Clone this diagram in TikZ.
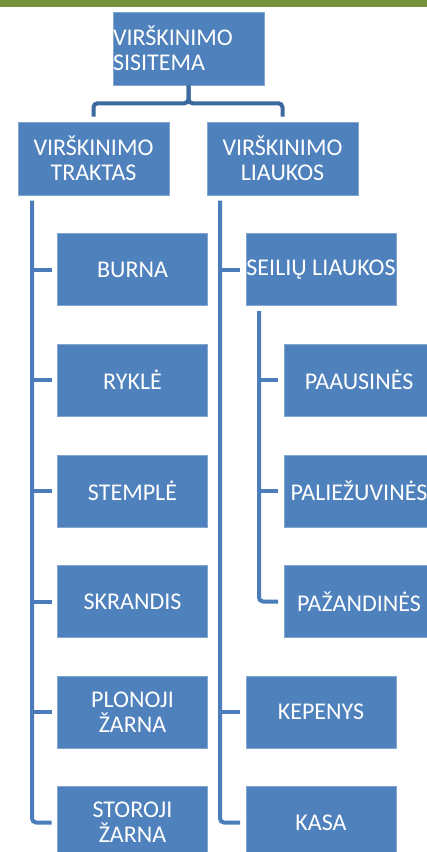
\documentclass[tikz,border=0pt]{standalone}
\usepackage{fontspec}
\setmainfont{Carlito}
\definecolor{boxblue}{HTML}{4F81BD}
\definecolor{lineblue}{HTML}{4A7DBA}
\definecolor{topline}{HTML}{3C6A9E}
\definecolor{barolive}{HTML}{77933C}
\tikzset{
  box/.style={fill=boxblue, draw=boxblue!70!white, line width=0.6pt, text=white, inner sep=0pt,
    minimum width=150pt, minimum height=72pt, align=center,
    font=\fontsize{24}{25}\selectfont},
  conn/.style={draw=lineblue, line width=4pt, rounded corners=4pt},
  topconn/.style={draw=topline, line width=4pt, rounded corners=4pt},
}
\begin{document}
\begin{tikzpicture}[x=1pt,y=-1pt]
\useasboundingbox (0,0) rectangle (427,852);
\clip (0,0) rectangle (427,852);
\fill[white] (0,0) rectangle (427,852);
\fill[barolive] (0,0) rectangle (427,7);

% top
\node[box, minimum width=151pt, minimum height=73pt, text width=151pt, align=left] (top) at (188.5,48.5) {VIRŠKINIMO\\SISITEMA};
% level 2
\node[box, minimum width=151pt, minimum height=73pt] (trakt) at (93.5,158.5) {VIRŠKINIMO\\TRAKTAS};
\node[box, minimum width=151pt, minimum height=73pt] (liauk) at (282.5,158.5) {VIRŠKINIMO\\LIAUKOS};

% left column
\node[box] (burna) at (132.5,269.5) {BURNA};
\node[box] (rykle) at (132.5,380) {RYKLĖ};
\node[box] (stemple) at (132.5,491) {STEMPLĖ};
\node[box] (skrandis) at (132.5,601.5) {SKRANDIS};
\node[box] (plonoji) at (132.5,712) {PLONOJI\\ŽARNA};
\node[box] (storoji) at (132.5,822.5) {STOROJI\\ŽARNA};

% right column
\node[box] (seiliu) at (321,269.5) {SEILIŲ LIAUKOS};
\node[box] (paaus) at (359,380) {PAAUSINĖS};
\node[box] (paliez) at (359,491) {PALIEŽUVINĖS};
\node[box] (pazand) at (359,601.5) {PAŽANDINĖS};
\node[box] (kepenys) at (321,712) {KEPENYS};
\node[box] (kasa) at (321,822.5) {KASA};

% top connectors
\draw[topconn] (top.south) -- ++(0,18) -| ([yshift=5pt]trakt.north);
\draw[topconn] (top.south) -- ++(0,18) -| ([yshift=5pt]liauk.north);

% left trunk
\coordinate (ta) at (32,200.5);
\draw[conn] (ta) |- ([xshift=-5.5pt]storoji.west);
\foreach \n in {burna,rykle,stemple,skrandis,plonoji}
  \draw[conn] (ta |- \n.west) -- ([xshift=-5.5pt]\n.west);

% right trunk
\coordinate (tb) at (220,200.5);
\draw[conn] (tb) |- ([xshift=-5.5pt]kasa.west);
\foreach \n in {seiliu,kepenys}
  \draw[conn] (tb |- \n.west) -- ([xshift=-5.5pt]\n.west);

% sub trunk
\coordinate (tc) at (259,311);
\draw[conn] (tc) |- ([xshift=-5.5pt]pazand.west);
\foreach \n in {paaus,paliez}
  \draw[conn] (tc |- \n.west) -- ([xshift=-5.5pt]\n.west);
\end{tikzpicture}
\end{document}
